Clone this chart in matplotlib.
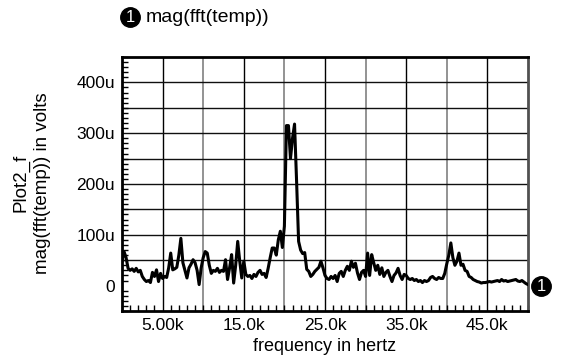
import numpy as np
import matplotlib
matplotlib.use("Agg")
import matplotlib.pyplot as plt
from matplotlib.ticker import MultipleLocator, FixedLocator
import matplotlib.transforms as mtransforms

plt.rcParams['font.family'] = ['Liberation Sans', 'DejaVu Sans']

# FFT bin spacing in hertz
bin_hz = 250.0

# magnitude of each bin, in microvolts
mag_uv = [
    48, 67, 55, 34, 30, 33, 28, 34, 27, 30, 18, 12, 8, 10, 6, 26, 18, 31, 8, 24, 14,
    18, 16, 35, 64, 31, 33, 36, 60, 93, 45, 30, 15, 35, 42, 51, 45, 30, 2, 35, 55,
    67, 64, 40, 24, 30, 28, 34, 26, 30, 28, 51, 12, 35, 61, 5, 40, 87, 48, 15, 48,
    22, 18, 20, 14, 22, 18, 26, 30, 22, 24, 16, 34, 55, 74, 74, 60, 90, 107, 75, 117,
    315, 315, 250, 290, 318, 206, 87, 70, 63, 65, 32, 28, 18, 22, 28, 32, 36, 48, 35, 20,
    14, 12, 18, 14, 20, 8, 24, 28, 18, 30, 38, 30, 48, 36, 44, 25, 12, 26, 30, 18,
    64, 20, 61, 45, 30, 40, 22, 35, 18, 26, 30, 18, 8, 20, 25, 34, 20, 12, 22, 20,
    14, 12, 14, 10, 12, 8, 10, 6, 10, 8, 10, 16, 18, 14, 12, 16, 14, 14, 24, 43,
    60, 84, 55, 40, 48, 64, 40, 42, 30, 28, 18, 16, 12, 10, 8, 7, 5, 6, 6, 7,
    8, 7, 8, 9, 10, 8, 12, 9, 10, 8, 9, 10, 11, 12, 9, 8, 10, 7, 4, 2,
]

freq = np.arange(len(mag_uv)) * bin_hz
mag = np.array(mag_uv) * 1e-6

y_ticks = [0, 100e-6, 200e-6, 300e-6, 400e-6]
y_labels = ["0", "100u", "200u", "300u", "400u"]
x_ticks = [5e3, 15e3, 25e3, 35e3, 45e3]
x_labels = ["5.00k", "15.0k", "25.0k", "35.0k", "45.0k"]

fig = plt.figure(figsize=(5.63, 3.62), dpi=100)
ax = fig.add_axes([0.2167, 0.1409, 0.7211, 0.7016])

# grid: labelled verticals black, the in-between ones grey
for xv in np.arange(5e3, 50e3, 10e3):
    ax.axvline(xv, color='black', lw=1.0, zorder=1)
for xv in np.arange(10e3, 50e3, 10e3):
    ax.axvline(xv, color='#808080', lw=1.2, zorder=1)
for yv in np.arange(50e-6, 450e-6, 50e-6):
    ax.axhline(yv, color='#101010', lw=1.0, zorder=1)

ax.plot(freq, mag, color='black', lw=2.2, zorder=3)

ax.set_xlim(0, 50e3)
ax.set_ylim(-50e-6, 450e-6)

ax.xaxis.set_major_locator(FixedLocator(x_ticks))
ax.set_xticklabels(x_labels)
ax.yaxis.set_major_locator(FixedLocator(y_ticks))
ax.set_yticklabels(y_labels)
ax.xaxis.set_minor_locator(MultipleLocator(1e3))
ax.yaxis.set_minor_locator(MultipleLocator(10e-6))

ax.tick_params(which='major', length=0, labelsize=12.5, pad=5)
ax.tick_params(which='minor', direction='in', length=4, width=1, color='black')
ax.tick_params(axis='x', which='minor', top=False)
ax.tick_params(axis='y', which='minor', right=False)

for s in ax.spines.values():
    s.set_linewidth(2)
    s.set_color('black')
ax.spines['right'].set_color('#505050')

ax.set_xlabel("frequency in hertz", fontsize=13, labelpad=4)
fig.text(32 / 563, 1 - 183 / 362, "Plot2_f\nmag(fft(temp)) in volts",
         rotation=90, ha='center', va='center', multialignment='center',
         fontsize=13.5, linespacing=1.35)

# legend badge at the top
fig.lines.append(plt.Line2D([130 / 563], [1 - 17 / 362], marker='o', ms=14,
                            color='black', transform=fig.transFigure))
fig.text(130 / 563, 1 - 17.5 / 362, "1", color='white', fontsize=12,
         ha='center', va='center')
fig.text(146 / 563, 1 - 17 / 362, "mag(fft(temp))", fontsize=14,
         ha='left', va='center')

# badge at the end of the trace
tr = mtransforms.blended_transform_factory(ax.transAxes, ax.transData)
ax.plot([1.032], [mag[-1] - 3e-6], marker='o', ms=14, color='black',
        transform=tr, clip_on=False, zorder=5)
ax.text(1.032, mag[-1] - 3e-6, "1", color='white', fontsize=12, ha='center',
        va='center', transform=tr, clip_on=False, zorder=6)

fig.savefig("out.png", dpi=100)
